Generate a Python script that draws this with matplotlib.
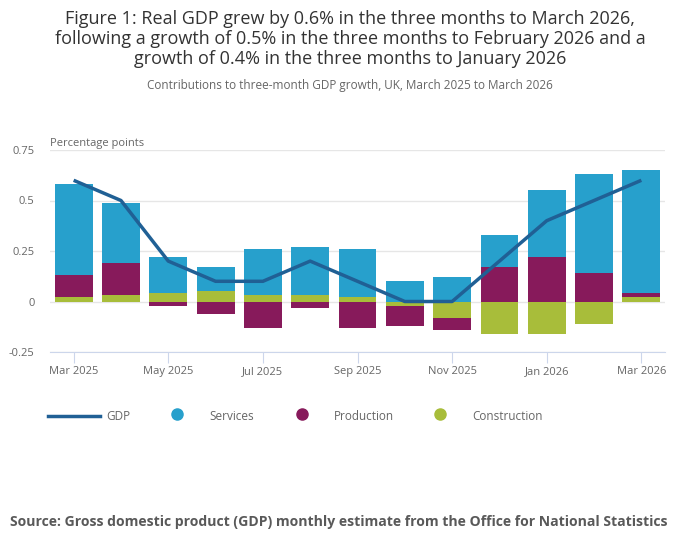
import numpy as np
import matplotlib.pyplot as plt
from matplotlib.lines import Line2D

plt.rcParams['font.family'] = ['Open Sans', 'DejaVu Sans']

months = ['Mar 2025', 'Apr 2025', 'May 2025', 'Jun 2025', 'Jul 2025', 'Aug 2025',
          'Sep 2025', 'Oct 2025', 'Nov 2025', 'Dec 2025', 'Jan 2026', 'Feb 2026',
          'Mar 2026']
gdp = [0.6, 0.5, 0.2, 0.1, 0.1, 0.2, 0.1, 0.0, 0.0, 0.2, 0.4, 0.5, 0.6]
services = [0.45, 0.30, 0.18, 0.12, 0.23, 0.24, 0.24, 0.10, 0.12, 0.16, 0.33, 0.49, 0.61]
production = [0.11, 0.16, -0.02, -0.06, -0.13, -0.03, -0.13, -0.10, -0.06, 0.17, 0.22, 0.14, 0.02]
construction = [0.02, 0.03, 0.04, 0.05, 0.03, 0.03, 0.02, -0.02, -0.08, -0.16, -0.16, -0.11, 0.02]

c_gdp = '#206095'
c_serv = '#27a0cc'
c_prod = '#871a5b'
c_cons = '#a8bd3a'
grey = '#666666'

fig = plt.figure(figsize=(7, 5.49), dpi=100)
ax = fig.add_axes([50 / 700, 1 - 352 / 549, 615 / 700, 202 / 549])

x = np.arange(len(months))
pos = np.zeros(len(months))
neg = np.zeros(len(months))
for vals, col in [(construction, c_cons), (production, c_prod), (services, c_serv)]:
    v = np.array(vals)
    base = np.where(v >= 0, pos, neg)
    ax.bar(x, v, 0.8, bottom=base, color=col, zorder=2)
    pos = pos + np.where(v >= 0, v, 0)
    neg = neg + np.where(v < 0, v, 0)

ax.plot(x, gdp, color=c_gdp, lw=2.5, zorder=3, solid_capstyle='butt')

ax.set_xlim(-0.5, len(months) - 0.5)
ax.set_ylim(-0.25, 0.75)
ax.set_yticks([-0.25, 0, 0.25, 0.5, 0.75])
ax.set_yticklabels(['-0.25', '0', '0.25', '0.5', '0.75'])
ax.yaxis.grid(True, color='#e6e6e6', lw=1, zorder=0)
ax.set_xticks(x[::2])
ax.set_xticklabels(months[::2])
for s in ['top', 'right', 'left']:
    ax.spines[s].set_visible(False)
ax.spines['bottom'].set_color('#ccd6eb')
ax.tick_params(axis='y', length=0, labelsize=8, labelcolor=grey, pad=11)
ax.tick_params(axis='x', length=8, color='#ccd6eb', labelsize=8, labelcolor=grey, pad=2)

ax.text(0, 1.005, 'Percentage points', transform=ax.transAxes, fontsize=8,
        color=grey, va='bottom', ha='left')

fig.text(0.5, 1 - 39 / 549,
         'Figure 1: Real GDP grew by 0.6% in the three months to March 2026,\n'
         'following a growth of 0.5% in the three months to February 2026 and a\n'
         'growth of 0.4% in the three months to January 2026',
         ha='center', va='center', fontsize=13, color='#333333', linespacing=1.17)
fig.text(0.5, 1 - 86 / 549,
         'Contributions to three-month GDP growth, UK, March 2025 to March 2026',
         ha='center', va='center', fontsize=8.5, color=grey)

# legend
ly = 1 - 416 / 549
fig.add_artist(Line2D([48 / 700, 100 / 700], [ly, ly], color=c_gdp, lw=2.5))
fig.text(106 / 700, ly, 'GDP', va='center', fontsize=8.5, color=grey)
for mx, tx, col, lab in [(177, 209, c_serv, 'Services'),
                         (302, 334, c_prod, 'Production'),
                         (440, 472, c_cons, 'Construction')]:
    fig.add_artist(Line2D([mx / 700], [ly + 0.003], marker='o', ms=8, color=col, lw=0))
    fig.text(tx / 700, ly, lab, va='center', fontsize=8.5, color=grey)

fig.text(10 / 700, 1 - 522 / 549,
         'Source: Gross domestic product (GDP) monthly estimate from the Office for National Statistics',
         va='center', ha='left', fontsize=10.1, fontweight='bold', color='#595959')

fig.savefig('out.png', dpi=100)
